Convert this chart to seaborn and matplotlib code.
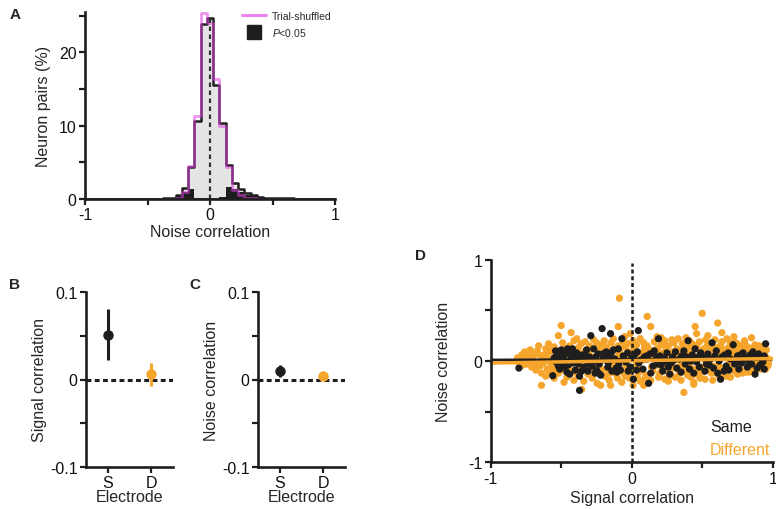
import numpy as np
import pandas as pd
import matplotlib
matplotlib.use('Agg')
import matplotlib.pyplot as plt
from matplotlib.lines import Line2D
import seaborn as sns

# ---- A: noise-correlation histogram, % of neuron pairs per 0.05 bin
bin_centers = [-0.35, -0.30, -0.25, -0.20, -0.15, -0.10, -0.05, 0.00, 0.05, 0.10, 0.15,
               0.20, 0.25, 0.30, 0.35, 0.40, 0.45, 0.50, 0.55, 0.60, 0.65, 0.70]
obs_pct = [0.1, 0.2, 0.5, 1.5, 4.3, 10.6, 23.9, 24.7, 15.5, 10.4, 4.6,
           2.2, 1.4, 0.8, 0.5, 0.3, 0.2, 0.1, 0.1, 0.15, 0.15, 0.05]
shuf_pct = [0.0, 0.05, 0.2, 0.9, 4.5, 11.3, 25.4, 24.0, 16.3, 9.9, 4.4,
            1.2, 0.5, 0.2, 0.1, 0.05, 0.0, 0.0, 0.0, 0.0, 0.0, 0.0]
sig_pct = [0.1, 0.2, 0.4, 1.0, 1.35, 0.15, 0.0, 0.0, 0.05, 0.3, 1.6,
           1.35, 0.9, 0.6, 0.4, 0.25, 0.15, 0.1, 0.05, 0.15, 0.1, 0.05]

# ---- B / C: mean and interval per electrode group
electrodes = ['S', 'D']
sig_mean = [0.051, 0.006]
sig_lo = [0.022, -0.007]
sig_hi = [0.081, 0.019]
noise_mean = [0.0097, 0.0036]
noise_lo = [0.003, 0.001]
noise_hi = [0.0162, 0.006]

# ---- D: signal vs noise correlation per pair
diff_pts = [
    (-0.81, 0.03), (-0.80, -0.02), (-0.78, 0.06), (-0.77, -0.04), (-0.78, 0.01),
    (-0.75, 0.05), (-0.74, -0.03), (-0.76, 0.09), (-0.72, 0.11), (-0.71, -0.06),
    (-0.72, 0.02), (-0.69, 0.08), (-0.68, -0.09), (-0.70, 0.04), (-0.69, -0.01),
    (-0.66, 0.15), (-0.65, -0.05), (-0.67, 0.10), (-0.64, -0.24), (-0.63, 0.03),
    (-0.64, -0.12), (-0.61, 0.12), (-0.60, -0.08), (-0.62, 0.06), (-0.61, -0.15),
    (-0.58, 0.09), (-0.57, -0.03), (-0.59, 0.17), (-0.58, -0.11), (-0.55, 0.14),
    (-0.54, 0.05), (-0.56, -0.07), (-0.55, -0.17), (-0.52, 0.25), (-0.51, 0.10),
    (-0.53, -0.02), (-0.52, -0.12), (-0.50, 0.35), (-0.49, 0.18), (-0.50, -0.09),
    (-0.48, 0.06), (-0.47, 0.12), (-0.46, -0.16), (-0.47, 0.02), (-0.48, -0.21),
    (-0.43, 0.28), (-0.44, 0.08), (-0.45, -0.06), (-0.44, 0.15), (-0.41, 0.20),
    (-0.40, -0.11), (-0.42, 0.04), (-0.41, -0.19), (-0.38, 0.13), (-0.37, -0.04),
    (-0.39, 0.22), (-0.38, -0.14), (-0.355, -0.28), (-0.35, 0.07), (-0.36, 0.17),
    (-0.33, 0.10), (-0.32, -0.09), (-0.34, -0.20), (-0.33, 0.19), (-0.30, 0.15),
    (-0.29, -0.02), (-0.31, -0.13), (-0.30, 0.06), (-0.27, 0.21), (-0.26, 0.04),
    (-0.28, -0.17), (-0.27, -0.07), (-0.245, 0.11), (-0.24, -0.11), (-0.25, 0.18),
    (-0.245, -0.22), (-0.22, -0.24), (-0.21, 0.08), (-0.23, -0.05), (-0.22, 0.16),
    (-0.195, 0.13), (-0.19, -0.15), (-0.20, 0.02), (-0.195, 0.20), (-0.17, 0.06),
    (-0.16, -0.19), (-0.18, 0.14), (-0.17, -0.08), (-0.145, 0.18), (-0.14, -0.03),
    (-0.15, -0.24), (-0.145, 0.10), (-0.12, 0.12), (-0.11, -0.13), (-0.13, 0.22),
    (-0.12, -0.06), (-0.095, 0.34), (-0.09, 0.07), (-0.10, -0.17), (-0.095, 0.15),
    (-0.087, 0.62), (-0.07, -0.10), (-0.06, 0.19), (-0.08, 0.03), (-0.07, -0.21),
    (-0.045, 0.14), (-0.04, -0.05), (-0.05, 0.24), (-0.045, -0.15), (-0.02, 0.09),
    (-0.01, -0.12), (-0.03, 0.17), (-0.02, 0.02), (-0.01, 0.27), (0.01, -0.24),
    (0.02, 0.11), (0.00, -0.07), (0.01, 0.20), (0.035, 0.16), (0.04, -0.16),
    (0.03, 0.05), (0.035, -0.02), (0.06, 0.22), (0.07, 0.08), (0.05, -0.11),
    (0.06, -0.20), (0.085, -0.24), (0.09, 0.13), (0.08, 0.01), (0.085, 0.18),
    (0.11, 0.44), (0.12, 0.06), (0.10, -0.14), (0.11, 0.15), (0.135, 0.34),
    (0.14, -0.06), (0.13, 0.11), (0.135, -0.19), (0.16, 0.19), (0.17, 0.02),
    (0.15, -0.10), (0.16, 0.09), (0.185, 0.13), (0.19, -0.16), (0.18, 0.24),
    (0.185, -0.03), (0.21, 0.23), (0.22, 0.07), (0.20, -0.12), (0.21, 0.16),
    (0.235, -0.18), (0.24, 0.10), (0.23, -0.04), (0.235, 0.20), (0.26, 0.15),
    (0.27, -0.09), (0.25, 0.04), (0.26, -0.20), (0.285, 0.21), (0.29, 0.09),
    (0.28, -0.14), (0.285, -0.02), (0.31, -0.16), (0.32, 0.12), (0.30, 0.18),
    (0.31, -0.07), (0.335, 0.08), (0.34, -0.12), (0.33, 0.22), (0.335, 0.01),
    (0.36, 0.17), (0.37, -0.05), (0.35, -0.19), (0.36, 0.11), (0.37, -0.31),
    (0.385, 0.13), (0.39, -0.10), (0.38, 0.04), (0.385, 0.23), (0.41, 0.20),
    (0.42, -0.16), (0.40, 0.07), (0.41, -0.03), (0.435, 0.11), (0.44, -0.21),
    (0.43, 0.17), (0.435, -0.08), (0.45, 0.34), (0.44, -0.23), (0.46, 0.15),
    (0.47, 0.03), (0.455, -0.13), (0.46, 0.27), (0.485, 0.09), (0.49, -0.06),
    (0.48, 0.19), (0.485, -0.17), (0.50, 0.47), (0.51, 0.12), (0.50, -0.11),
    (0.525, 0.21), (0.53, -0.02), (0.52, -0.18), (0.525, 0.06), (0.55, 0.14),
    (0.56, -0.09), (0.54, 0.25), (0.55, 0.02), (0.575, -0.19), (0.58, 0.10),
    (0.57, 0.17), (0.575, -0.05), (0.60, 0.07), (0.61, -0.13), (0.59, 0.21),
    (0.60, 0.13), (0.61, 0.375), (0.625, -0.08), (0.63, 0.15), (0.62, 0.03),
    (0.625, -0.16), (0.64, 0.28), (0.65, 0.11), (0.66, -0.12), (0.64, 0.19),
    (0.65, 0.05), (0.675, 0.22), (0.68, -0.04), (0.67, -0.15), (0.675, 0.09),
    (0.70, -0.16), (0.71, 0.14), (0.69, 0.02), (0.70, 0.18), (0.725, 0.06),
    (0.73, -0.10), (0.72, 0.12), (0.725, 0.24), (0.75, 0.17), (0.76, -0.06),
    (0.74, 0.03), (0.75, -0.13), (0.775, 0.09), (0.78, -0.02), (0.77, 0.15),
    (0.775, -0.09), (0.80, 0.12), (0.81, -0.11), (0.79, 0.05), (0.80, 0.20),
    (0.825, 0.04), (0.83, -0.07), (0.82, 0.14), (0.825, 0.08), (0.85, 0.23),
    (0.86, 0.13), (0.84, -0.03), (0.85, -0.10), (0.875, 0.07), (0.88, -0.06),
    (0.87, 0.10), (0.875, 0.16), (0.90, 0.02), (0.91, -0.08), (0.89, 0.12),
    (0.90, 0.05), (0.925, 0.09), (0.93, -0.04), (0.92, 0.14), (0.95, -0.08),
    (0.96, 0.03), (0.94, 0.07), (0.97, 0.01), (0.97, -0.03),
    (-0.795, 0.00), (-0.765, 0.03), (-0.735, -0.01), (-0.705, 0.07), (-0.675, -0.03),
    (-0.655, 0.06), (-0.625, -0.02), (-0.595, 0.03), (-0.565, 0.11), (-0.535, -0.09),
    (-0.505, 0.01), (-0.485, -0.05), (-0.455, 0.05), (-0.425, -0.10), (-0.395, 0.10),
    (-0.365, -0.08), (-0.345, 0.03), (-0.315, -0.04), (-0.285, 0.12), (-0.255, -0.01),
    (-0.235, 0.05), (-0.205, -0.09), (-0.185, 0.10), (-0.155, -0.12), (-0.135, 0.04),
    (-0.105, -0.02), (-0.085, 0.10), (-0.055, -0.12), (-0.035, 0.06), (-0.015, -0.17),
    (0.015, 0.14), (0.045, -0.06), (0.065, 0.03), (0.095, -0.17), (0.115, 0.10),
    (0.145, 0.05), (0.165, -0.05), (0.195, 0.08), (0.215, -0.07), (0.245, 0.14),
    (0.265, -0.13), (0.295, 0.03), (0.315, 0.06), (0.345, -0.05), (0.365, 0.06),
    (0.395, -0.14), (0.415, 0.14), (0.445, 0.02), (0.465, -0.08), (0.495, 0.03),
    (0.515, -0.06), (0.535, 0.15), (0.565, -0.12), (0.585, 0.04), (0.615, -0.04),
    (0.635, 0.09), (0.655, -0.07), (0.685, 0.13), (0.705, -0.04), (0.735, 0.18),
    (0.755, 0.10), (0.785, -0.12), (0.805, 0.16), (0.835, -0.11), (0.855, 0.05),
    (0.885, 0.00), (0.905, 0.15), (0.935, -0.07), (0.955, 0.11), (0.965, -0.05),
]
same_pts = [
    (-0.80, -0.07), (-0.56, -0.145), (-0.55, 0.03), (-0.53, 0.06), (-0.52, -0.05),
    (-0.54, 0.10), (-0.50, 0.11), (-0.49, -0.02), (-0.51, -0.08), (-0.50, 0.04),
    (-0.47, 0.07), (-0.46, -0.11), (-0.48, 0.01), (-0.44, 0.09), (-0.45, -0.04),
    (-0.43, 0.03), (-0.44, -0.13), (-0.43, 0.085), (-0.41, 0.05), (-0.40, -0.09),
    (-0.42, 0.12), (-0.38, -0.03), (-0.39, 0.08), (-0.37, -0.15), (-0.37, -0.29),
    (-0.35, 0.06), (-0.34, -0.06), (-0.36, 0.02), (-0.32, 0.11), (-0.31, -0.10),
    (-0.33, 0.01), (-0.29, 0.25), (-0.30, 0.04), (-0.28, -0.05), (-0.27, 0.12),
    (-0.26, -0.12), (-0.27, 0.00), (-0.24, 0.07), (-0.23, -0.03), (-0.25, -0.09),
    (-0.21, 0.32), (-0.20, 0.03), (-0.22, -0.14), (-0.18, 0.09), (-0.17, -0.06),
    (-0.19, 0.01), (-0.15, 0.27), (-0.14, -0.10), (-0.16, 0.05), (-0.12, 0.02),
    (-0.11, -0.07), (-0.13, 0.11), (-0.095, 0.12), (-0.09, -0.03), (-0.07, 0.22),
    (-0.06, 0.05), (-0.08, -0.09), (-0.04, -0.01), (-0.03, 0.08), (-0.01, -0.06),
    (0.00, 0.03), (0.012, -0.18), (0.02, 0.06), (0.047, 0.30), (0.05, -0.02),
    (0.04, 0.09), (0.08, -0.08), (0.09, 0.04), (0.12, -0.22), (0.11, 0.02),
    (0.13, 0.07), (0.15, -0.05), (0.16, 0.10), (0.19, 0.22), (0.18, -0.03),
    (0.20, 0.05), (0.22, -0.10), (0.23, 0.03), (0.25, 0.08), (0.26, -0.06),
    (0.28, -0.02), (0.29, 0.04), (0.27, -0.13), (0.31, 0.09), (0.32, -0.07),
    (0.34, 0.02), (0.35, -0.11), (0.37, 0.10), (0.38, -0.03), (0.40, 0.20),
    (0.41, -0.08), (0.39, 0.04), (0.43, 0.06), (0.44, -0.12), (0.45, 0.12),
    (0.46, -0.01), (0.48, -0.06), (0.49, 0.08), (0.51, 0.03), (0.52, -0.10),
    (0.54, 0.07), (0.55, -0.04), (0.57, 0.18), (0.58, -0.07), (0.56, 0.02),
    (0.60, 0.10), (0.61, -0.12), (0.63, -0.18), (0.64, 0.04), (0.66, 0.06),
    (0.67, -0.05), (0.69, -0.09), (0.70, 0.02), (0.72, 0.16), (0.73, -0.03),
    (0.75, 0.05), (0.76, -0.08), (0.78, -0.02), (0.79, 0.08), (0.81, 0.03),
    (0.82, -0.06), (0.84, 0.06), (0.85, -0.03), (0.875, -0.13), (0.88, 0.04),
    (0.90, 0.07), (0.91, -0.04), (0.94, 0.05), (0.93, -0.01), (0.95, 0.17),
    (0.94, -0.08),
    (-0.535, -0.01), (-0.505, 0.07), (-0.475, -0.06), (-0.455, 0.12), (-0.415, -0.02),
    (-0.395, 0.02), (-0.355, -0.10), (-0.325, 0.05), (-0.305, -0.03), (-0.255, 0.04),
    (-0.235, -0.12), (-0.205, 0.07), (-0.165, -0.02), (-0.145, 0.08), (-0.105, -0.11),
    (-0.055, 0.02), (-0.025, -0.10), (0.035, -0.09), (0.065, 0.01), (0.105, 0.05),
    (0.135, -0.12), (0.175, 0.04), (0.21, -0.04), (0.245, 0.00), (0.30, 0.01),
    (0.355, 0.05), (0.42, 0.00), (0.47, 0.04), (0.53, -0.03), (0.59, 0.05),
    (0.62, 0.00), (0.655, -0.10), (0.685, 0.08), (0.745, -0.01), (0.77, 0.06),
    (0.83, -0.01), (0.86, 0.09), (0.89, -0.07), (0.92, 0.03),
]
fit_x = [-1, 1]
same_fit = [0.010, 0.020]
diff_fit = [-0.020, 0.025]

ink = '#1e1e1e'
orange = '#F6A52C'
pink = '#E040E0'
legend_pink = '#EE82EE'
FS = 11.5

sns.set_style('ticks')
plt.rcParams['font.family'] = ['Liberation Sans', 'DejaVu Sans']
plt.rcParams['axes.unicode_minus'] = False
plt.rcParams['mathtext.fontset'] = 'custom'
plt.rcParams['mathtext.it'] = 'Liberation Sans:italic'
plt.rcParams['mathtext.rm'] = 'Liberation Sans'


def style_axes(ax):
    sns.despine(ax=ax)
    for side in ['left', 'bottom']:
        ax.spines[side].set_linewidth(1.9)
        ax.spines[side].set_color(ink)
    ax.tick_params(width=1.6, length=4, color=ink, labelsize=FS, pad=2, labelcolor='#111')


fig = plt.figure(figsize=(7.76, 5.10), dpi=100)
W, H = 776.0, 510.0


def px_axes(x0, y0, x1, y1):
    return fig.add_axes([x0 / W, 1 - y1 / H, (x1 - x0) / W, (y1 - y0) / H])


# ---------------- A
axA = px_axes(85, 13, 335, 200)
hist_df = pd.DataFrame({'r': bin_centers, 'obs': obs_pct, 'shuf': shuf_pct, 'sig': sig_pct})
hkw = dict(data=hist_df, x='r', binwidth=0.05, binrange=(-1.025, 1.025), ax=axA)
sns.histplot(weights='obs', element='step', fill=True, color='#e4e4e4', edgecolor=ink,
             linewidth=1.8, alpha=1, **hkw)
sns.histplot(weights='sig', element='bars', fill=True, color=ink, linewidth=0, alpha=1, **hkw)
sns.histplot(weights='shuf', element='step', fill=False, color=pink, linewidth=2.0,
             alpha=0.55, **hkw)
axA.axvline(0, ymax=0.965, color='#333', ls=(0, (2.0, 1.6)), lw=1.6)
axA.set_xlim(-1, 1)
axA.set_ylim(0, 25.5)
axA.set_xticks([-1, -0.5, 0, 0.5, 1])
axA.set_xticklabels(['-1', '', '0', '', '1'])
axA.set_yticks([0, 5, 10, 15, 20, 25])
axA.set_yticklabels(['0', '', '10', '', '20', ''])
axA.set_xlabel('Noise correlation', fontsize=FS, labelpad=1)
axA.set_ylabel('Neuron pairs (%)', fontsize=FS, labelpad=6)
style_axes(axA)
handles = [Line2D([0], [0], color=legend_pink, lw=2.2),
           Line2D([0], [0], marker='s', color=ink, ls='none', markersize=10)]
axA.legend(handles, ['Trial-shuffled', r'$\it{P}$<0.05'], loc='upper left',
           bbox_to_anchor=(0.61, 1.03), frameon=False, fontsize=7.5,
           handlelength=2.3, labelspacing=0.5, handletextpad=0.6, borderaxespad=0)

# ---------------- B, C
axB = px_axes(86, 293, 173, 468)
axC = px_axes(258, 293, 345, 468)
cols = [ink, orange]
for ax, mean, lo, hi, lab in [(axB, sig_mean, sig_lo, sig_hi, 'Signal correlation'),
                              (axC, noise_mean, noise_lo, noise_hi, 'Noise correlation')]:
    ax.axhline(0, color=ink, ls=(0, (1.6, 1.1)), lw=2.2, zorder=1)
    for i in range(len(electrodes)):
        ax.errorbar(i, mean[i], yerr=[[mean[i] - lo[i]], [hi[i] - mean[i]]], fmt='o',
                    color=cols[i], ms=6.5, elinewidth=2.2, capsize=0, zorder=3)
    ax.set_xlim(-0.5, 1.5)
    ax.set_ylim(-0.1, 0.1)
    ax.set_xticks(range(len(electrodes)))
    ax.set_xticklabels(electrodes)
    ax.set_yticks([-0.1, -0.05, 0, 0.05, 0.1])
    ax.set_yticklabels(['-0.1', '', '0', '', '0.1'])
    ax.set_xlabel('Electrode', fontsize=FS, labelpad=-1)
    ax.set_ylabel(lab, fontsize=FS, labelpad=2)
    style_axes(ax)

# ---------------- D
axD = px_axes(490.7, 260.7, 772.7, 463.3)
scat_df = pd.DataFrame(diff_pts + same_pts, columns=['signal', 'noise'])
scat_df['electrode'] = ['Different'] * len(diff_pts) + ['Same'] * len(same_pts)
sns.scatterplot(data=scat_df, x='signal', y='noise', hue='electrode',
                palette={'Different': orange, 'Same': ink}, s=27, linewidth=0,
                legend=False, ax=axD)
axD.plot(fit_x, same_fit, color=ink, lw=2.0)
axD.plot(fit_x, diff_fit, color=orange, lw=2.5)
axD.axvline(0, ymax=0.985, color=ink, ls=(0, (1.6, 1.1)), lw=1.8)
axD.set_xlim(-1, 1)
axD.set_ylim(-1, 1)
axD.set_xticks([-1, -0.5, 0, 0.5, 1])
axD.set_xticklabels(['-1', '', '0', '', '1'])
axD.set_yticks([-1, -0.5, 0, 0.5, 1])
axD.set_yticklabels(['-1', '', '0', '', '1'])
axD.set_xlabel('Signal correlation', fontsize=FS, labelpad=3)
axD.set_ylabel('Noise correlation', fontsize=FS, labelpad=12)
axD.text(0.555, -0.65, 'Same', color=ink, fontsize=FS, va='center')
axD.text(0.555, -0.87, 'Different', color=orange, fontsize=FS, va='center')
style_axes(axD)

# panel letters
for lab, x, y in [('A', 15, 15), ('B', 15, 285), ('C', 195, 285), ('D', 421, 256)]:
    fig.text(x / W, 1 - y / H, lab, fontsize=11, fontweight='bold', ha='center', va='center')

fig.savefig('out.png', dpi=100)
